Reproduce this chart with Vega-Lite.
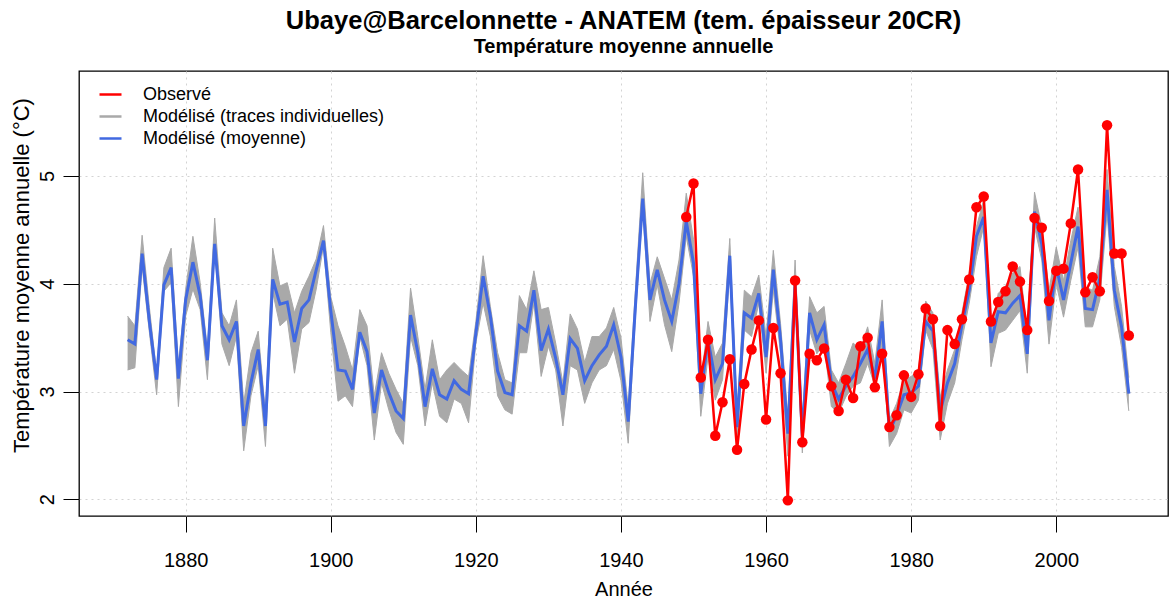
{
  "$schema": "https://vega.github.io/schema/vega-lite/v6.json",
  "width": 1089,
  "height": 445,
  "autosize": {"type": "none"},
  "padding": {"left": 79, "top": 71, "right": 3, "bottom": 87},
  "background": "#ffffff",
  "title": {
    "text": "Ubaye@Barcelonnette - ANATEM (tem. épaisseur 20CR)",
    "subtitle": "Température moyenne annuelle",
    "anchor": "middle",
    "font": "Liberation Sans",
    "fontSize": 25.5,
    "fontWeight": "bold",
    "color": "#000000",
    "subtitleFont": "Liberation Sans",
    "subtitleFontSize": 20,
    "subtitleFontWeight": "bold",
    "subtitleColor": "#000000",
    "offset": 14.5,
    "subtitlePadding": 1.8
  },
  "datasets": {
    "model": [
      {"year":1872,"mean":3.48,"min":3.20,"max":3.70},
      {"year":1873,"mean":3.44,"min":3.22,"max":3.61},
      {"year":1874,"mean":4.28,"min":4.16,"max":4.45},
      {"year":1875,"mean":3.65,"min":3.55,"max":3.78},
      {"year":1876,"mean":3.11,"min":2.97,"max":3.17},
      {"year":1877,"mean":3.99,"min":3.93,"max":4.15},
      {"year":1878,"mean":4.15,"min":4.01,"max":4.33},
      {"year":1879,"mean":3.12,"min":2.86,"max":3.24},
      {"year":1880,"mean":3.85,"min":3.70,"max":3.95},
      {"year":1881,"mean":4.20,"min":3.95,"max":4.44},
      {"year":1882,"mean":3.89,"min":3.76,"max":4.01},
      {"year":1883,"mean":3.29,"min":3.11,"max":3.39},
      {"year":1884,"mean":4.37,"min":4.32,"max":4.61},
      {"year":1885,"mean":3.61,"min":3.44,"max":3.73},
      {"year":1886,"mean":3.48,"min":3.24,"max":3.61},
      {"year":1887,"mean":3.65,"min":3.51,"max":3.85},
      {"year":1888,"mean":2.68,"min":2.45,"max":2.89},
      {"year":1889,"mean":3.08,"min":2.96,"max":3.36},
      {"year":1890,"mean":3.39,"min":3.24,"max":3.56},
      {"year":1891,"mean":2.68,"min":2.49,"max":2.80},
      {"year":1892,"mean":4.04,"min":3.92,"max":4.33},
      {"year":1893,"mean":3.81,"min":3.61,"max":3.98},
      {"year":1894,"mean":3.83,"min":3.67,"max":4.01},
      {"year":1895,"mean":3.46,"min":3.17,"max":3.73},
      {"year":1896,"mean":3.77,"min":3.58,"max":3.93},
      {"year":1897,"mean":3.85,"min":3.64,"max":4.07},
      {"year":1898,"mean":4.13,"min":3.95,"max":4.23},
      {"year":1899,"mean":4.40,"min":4.35,"max":4.54},
      {"year":1900,"mean":3.75,"min":3.55,"max":3.88},
      {"year":1901,"mean":3.20,"min":2.91,"max":3.61},
      {"year":1902,"mean":3.19,"min":2.96,"max":3.42},
      {"year":1903,"mean":3.02,"min":2.86,"max":3.20},
      {"year":1904,"mean":3.55,"min":3.51,"max":3.76},
      {"year":1905,"mean":3.37,"min":3.24,"max":3.61},
      {"year":1906,"mean":2.80,"min":2.55,"max":2.96},
      {"year":1907,"mean":3.20,"min":3.08,"max":3.36},
      {"year":1908,"mean":2.99,"min":2.83,"max":3.17},
      {"year":1909,"mean":2.82,"min":2.62,"max":3.02},
      {"year":1910,"mean":2.75,"min":2.51,"max":2.89},
      {"year":1911,"mean":3.71,"min":3.51,"max":3.96},
      {"year":1912,"mean":3.36,"min":3.24,"max":3.51},
      {"year":1913,"mean":2.86,"min":2.68,"max":3.02},
      {"year":1914,"mean":3.21,"min":3.08,"max":3.48},
      {"year":1915,"mean":2.97,"min":2.77,"max":3.11},
      {"year":1916,"mean":2.93,"min":2.71,"max":3.20},
      {"year":1917,"mean":3.10,"min":2.93,"max":3.27},
      {"year":1918,"mean":3.02,"min":2.89,"max":3.20},
      {"year":1919,"mean":2.98,"min":2.71,"max":3.14},
      {"year":1920,"mean":3.54,"min":3.45,"max":3.65},
      {"year":1921,"mean":4.07,"min":3.82,"max":4.26},
      {"year":1922,"mean":3.70,"min":3.51,"max":3.79},
      {"year":1923,"mean":3.19,"min":2.96,"max":3.36},
      {"year":1924,"mean":2.99,"min":2.83,"max":3.11},
      {"year":1925,"mean":2.97,"min":2.79,"max":3.08},
      {"year":1926,"mean":3.61,"min":3.36,"max":3.89},
      {"year":1927,"mean":3.56,"min":3.36,"max":3.76},
      {"year":1928,"mean":3.94,"min":3.82,"max":4.12},
      {"year":1929,"mean":3.38,"min":3.14,"max":3.76},
      {"year":1930,"mean":3.58,"min":3.42,"max":3.78},
      {"year":1931,"mean":3.31,"min":3.20,"max":3.45},
      {"year":1932,"mean":2.97,"min":2.68,"max":3.08},
      {"year":1933,"mean":3.49,"min":3.24,"max":3.72},
      {"year":1934,"mean":3.40,"min":3.20,"max":3.58},
      {"year":1935,"mean":3.10,"min":2.89,"max":3.27},
      {"year":1936,"mean":3.24,"min":3.08,"max":3.51},
      {"year":1937,"mean":3.34,"min":3.20,"max":3.51},
      {"year":1938,"mean":3.42,"min":3.24,"max":3.59},
      {"year":1939,"mean":3.62,"min":3.39,"max":3.78},
      {"year":1940,"mean":3.32,"min":3.10,"max":3.50},
      {"year":1941,"mean":2.72,"min":2.52,"max":2.86},
      {"year":1942,"mean":3.80,"min":3.70,"max":3.95},
      {"year":1943,"mean":4.79,"min":4.69,"max":5.03},
      {"year":1944,"mean":3.85,"min":3.65,"max":4.00},
      {"year":1945,"mean":4.13,"min":3.99,"max":4.25},
      {"year":1946,"mean":3.85,"min":3.62,"max":4.05},
      {"year":1947,"mean":3.65,"min":3.37,"max":3.85},
      {"year":1948,"mean":4.00,"min":3.82,"max":4.22},
      {"year":1949,"mean":4.58,"min":4.44,"max":4.84},
      {"year":1950,"mean":4.19,"min":4.07,"max":4.41},
      {"year":1951,"mean":2.98,"min":2.77,"max":3.08},
      {"year":1952,"mean":3.48,"min":3.32,"max":3.65},
      {"year":1953,"mean":3.11,"min":2.92,"max":3.32},
      {"year":1954,"mean":3.26,"min":3.11,"max":3.45},
      {"year":1955,"mean":4.26,"min":4.13,"max":4.42},
      {"year":1956,"mean":2.67,"min":2.52,"max":2.83},
      {"year":1957,"mean":3.73,"min":3.57,"max":3.94},
      {"year":1958,"mean":3.68,"min":3.51,"max":3.88},
      {"year":1959,"mean":3.91,"min":3.82,"max":4.08},
      {"year":1960,"mean":3.32,"min":3.17,"max":3.51},
      {"year":1961,"mean":4.13,"min":3.94,"max":4.31},
      {"year":1962,"mean":3.48,"min":3.35,"max":3.63},
      {"year":1963,"mean":2.61,"min":2.40,"max":2.77},
      {"year":1964,"mean":3.99,"min":3.88,"max":4.22},
      {"year":1965,"mean":2.58,"min":2.43,"max":2.74},
      {"year":1966,"mean":3.73,"min":3.57,"max":3.88},
      {"year":1967,"mean":3.48,"min":3.35,"max":3.73},
      {"year":1968,"mean":3.62,"min":3.45,"max":3.79},
      {"year":1969,"mean":3.08,"min":2.86,"max":3.20},
      {"year":1970,"mean":2.93,"min":2.80,"max":3.08},
      {"year":1971,"mean":3.05,"min":2.95,"max":3.26},
      {"year":1972,"mean":3.14,"min":3.05,"max":3.45},
      {"year":1973,"mean":3.26,"min":3.08,"max":3.39},
      {"year":1974,"mean":3.39,"min":3.26,"max":3.60},
      {"year":1975,"mean":3.12,"min":3.05,"max":3.26},
      {"year":1976,"mean":3.65,"min":3.45,"max":3.85},
      {"year":1977,"mean":2.63,"min":2.49,"max":2.74},
      {"year":1978,"mean":2.78,"min":2.61,"max":2.89},
      {"year":1979,"mean":2.97,"min":2.83,"max":3.11},
      {"year":1980,"mean":2.99,"min":2.80,"max":3.14},
      {"year":1981,"mean":3.05,"min":2.92,"max":3.20},
      {"year":1982,"mean":3.65,"min":3.57,"max":3.84},
      {"year":1983,"mean":3.56,"min":3.39,"max":3.73},
      {"year":1984,"mean":2.81,"min":2.55,"max":2.95},
      {"year":1985,"mean":3.08,"min":2.89,"max":3.20},
      {"year":1986,"mean":3.26,"min":3.08,"max":3.39},
      {"year":1987,"mean":3.62,"min":3.48,"max":3.73},
      {"year":1988,"mean":3.94,"min":3.82,"max":4.10},
      {"year":1989,"mean":4.44,"min":4.25,"max":4.53},
      {"year":1990,"mean":4.62,"min":4.53,"max":4.78},
      {"year":1991,"mean":3.45,"min":3.23,"max":3.57},
      {"year":1992,"mean":3.74,"min":3.54,"max":3.91},
      {"year":1993,"mean":3.73,"min":3.57,"max":3.98},
      {"year":1994,"mean":3.82,"min":3.66,"max":4.10},
      {"year":1995,"mean":3.89,"min":3.75,"max":4.16},
      {"year":1996,"mean":3.35,"min":3.17,"max":3.54},
      {"year":1997,"mean":4.67,"min":4.53,"max":4.85},
      {"year":1998,"mean":4.37,"min":4.22,"max":4.53},
      {"year":1999,"mean":3.66,"min":3.44,"max":3.94},
      {"year":2000,"mean":4.16,"min":4.00,"max":4.34},
      {"year":2001,"mean":3.85,"min":3.69,"max":4.03},
      {"year":2002,"mean":4.19,"min":4.03,"max":4.40},
      {"year":2003,"mean":4.53,"min":4.34,"max":4.71},
      {"year":2004,"mean":3.77,"min":3.60,"max":3.97},
      {"year":2005,"mean":3.76,"min":3.60,"max":3.94},
      {"year":2006,"mean":4.05,"min":3.85,"max":4.25},
      {"year":2007,"mean":4.87,"min":4.65,"max":5.06},
      {"year":2008,"mean":3.94,"min":3.79,"max":4.16},
      {"year":2009,"mean":3.60,"min":3.41,"max":3.79},
      {"year":2010,"mean":2.98,"min":2.82,"max":3.13}
    ],
    "obs": [
      {"year":1949,"obs":4.62},{"year":1950,"obs":4.93},{"year":1951,"obs":3.13},{"year":1952,"obs":3.48},
      {"year":1953,"obs":2.59},{"year":1954,"obs":2.90},{"year":1955,"obs":3.30},{"year":1956,"obs":2.46},
      {"year":1957,"obs":3.07},{"year":1958,"obs":3.39},{"year":1959,"obs":3.66},{"year":1960,"obs":2.74},
      {"year":1961,"obs":3.59},{"year":1962,"obs":3.17},{"year":1963,"obs":1.99},{"year":1964,"obs":4.03},
      {"year":1965,"obs":2.53},{"year":1966,"obs":3.35},{"year":1967,"obs":3.29},{"year":1968,"obs":3.40},
      {"year":1969,"obs":3.05},{"year":1970,"obs":2.82},{"year":1971,"obs":3.11},{"year":1972,"obs":2.94},
      {"year":1973,"obs":3.42},{"year":1974,"obs":3.50},{"year":1975,"obs":3.04},{"year":1976,"obs":3.35},
      {"year":1977,"obs":2.67},{"year":1978,"obs":2.78},{"year":1979,"obs":3.15},{"year":1980,"obs":2.95},
      {"year":1981,"obs":3.16},{"year":1982,"obs":3.77},{"year":1983,"obs":3.67},{"year":1984,"obs":2.68},
      {"year":1985,"obs":3.57},{"year":1986,"obs":3.44},{"year":1987,"obs":3.67},{"year":1988,"obs":4.04},
      {"year":1989,"obs":4.71},{"year":1990,"obs":4.81},{"year":1991,"obs":3.65},{"year":1992,"obs":3.83},
      {"year":1993,"obs":3.93},{"year":1994,"obs":4.16},{"year":1995,"obs":4.02},{"year":1996,"obs":3.57},
      {"year":1997,"obs":4.61},{"year":1998,"obs":4.52},{"year":1999,"obs":3.84},{"year":2000,"obs":4.12},
      {"year":2001,"obs":4.14},{"year":2002,"obs":4.56},{"year":2003,"obs":5.06},{"year":2004,"obs":3.92},
      {"year":2005,"obs":4.06},{"year":2006,"obs":3.93},{"year":2007,"obs":5.47},{"year":2008,"obs":4.28},
      {"year":2009,"obs":4.28},{"year":2010,"obs":3.52}
    ]
  },
  "encoding": {
    "x": {
      "field": "year",
      "type": "quantitative",
      "title": "Année",
      "scale": {"domain": [1865.3, 2015.4], "nice": false, "zero": false},
      "axis": {"values": [1880, 1900, 1920, 1940, 1960, 1980, 2000], "format": "d"}
    }
  },
  "layer": [
    {
      "data": {"name": "model"},
      "mark": {"type": "area", "color": "#A9A9A9", "opacity": 1},
      "encoding": {
        "y": {"field": "min", "type": "quantitative", "title": "Température moyenne annuelle (°C)",
              "scale": {"domain": [1.845, 5.974], "nice": false, "zero": false},
              "axis": {"values": [2, 3, 4, 5], "format": "d"}},
        "y2": {"field": "max"}
      }
    },
    {
      "data": {"name": "model"},
      "mark": {"type": "line", "strokeWidth": 1},
      "encoding": {
        "y": {"field": "min", "type": "quantitative", "title": "Température moyenne annuelle (°C)"},
        "color": {"datum": "Modélisé (traces individuelles)", "title": null,
                  "scale": {"domain": ["Observé", "Modélisé (traces individuelles)", "Modélisé (moyenne)"],
                            "range": ["#FF0000", "#A9A9A9", "#4169E1"]}}
      }
    },
    {
      "data": {"name": "model"},
      "mark": {"type": "line", "strokeWidth": 1},
      "encoding": {
        "y": {"field": "max", "type": "quantitative", "title": "Température moyenne annuelle (°C)"},
        "color": {"datum": "Modélisé (traces individuelles)", "title": null}
      }
    },
    {
      "data": {"name": "model"},
      "mark": {"type": "line", "strokeWidth": 3},
      "encoding": {
        "y": {"field": "mean", "type": "quantitative", "title": "Température moyenne annuelle (°C)"},
        "color": {"datum": "Modélisé (moyenne)", "title": null}
      }
    },
    {
      "data": {"name": "obs"},
      "mark": {"type": "line", "strokeWidth": 2.5},
      "encoding": {
        "y": {"field": "obs", "type": "quantitative", "title": "Température moyenne annuelle (°C)"},
        "color": {"datum": "Observé", "title": null}
      }
    },
    {
      "data": {"name": "obs"},
      "mark": {"type": "point", "filled": true, "shape": "circle", "size": 110, "color": "#FF0000", "opacity": 1},
      "encoding": {
        "y": {"field": "obs", "type": "quantitative", "title": "Température moyenne annuelle (°C)"}
      }
    }
  ],
  "config": {
    "font": "Liberation Sans",
    "view": {"stroke": "#000000", "strokeWidth": 1.3},
    "axis": {
      "domain": false,
      "tickColor": "#000000",
      "tickSize": 16,
      "tickWidth": 1,
      "labelColor": "#000000",
      "labelFont": "Liberation Sans",
      "labelFontSize": 20,
      "titleColor": "#000000",
      "titleFont": "Liberation Sans",
      "titleFontWeight": "normal",
      "grid": true,
      "gridColor": "#D3D3D3",
      "gridDash": [2, 4],
      "gridWidth": 1,
      "zindex": 1
    },
    "axisX": {"labelPadding": 18, "titleFontSize": 20, "titlePadding": 9, "labelFlush": false, "labelOverlap": false},
    "axisY": {
      "labelAngle": -90, "labelAlign": "center", "labelBaseline": "bottom", "labelPadding": 6,
      "titleFontSize": 22, "titleAngle": -90, "titleAlign": "center", "titleBaseline": "alphabetic",
      "titleX": -50.5, "titleY": 204
    },
    "legend": {
      "orient": "none",
      "legendX": 19,
      "legendY": 11,
      "padding": 0,
      "symbolType": "stroke",
      "symbolSize": 484,
      "symbolStrokeWidth": 2.5,
      "labelFont": "Liberation Sans",
      "labelFontSize": 18,
      "labelColor": "#000000",
      "labelOffset": 20,
      "labelLimit": 0,
      "rowPadding": 0
    }
  }
}
